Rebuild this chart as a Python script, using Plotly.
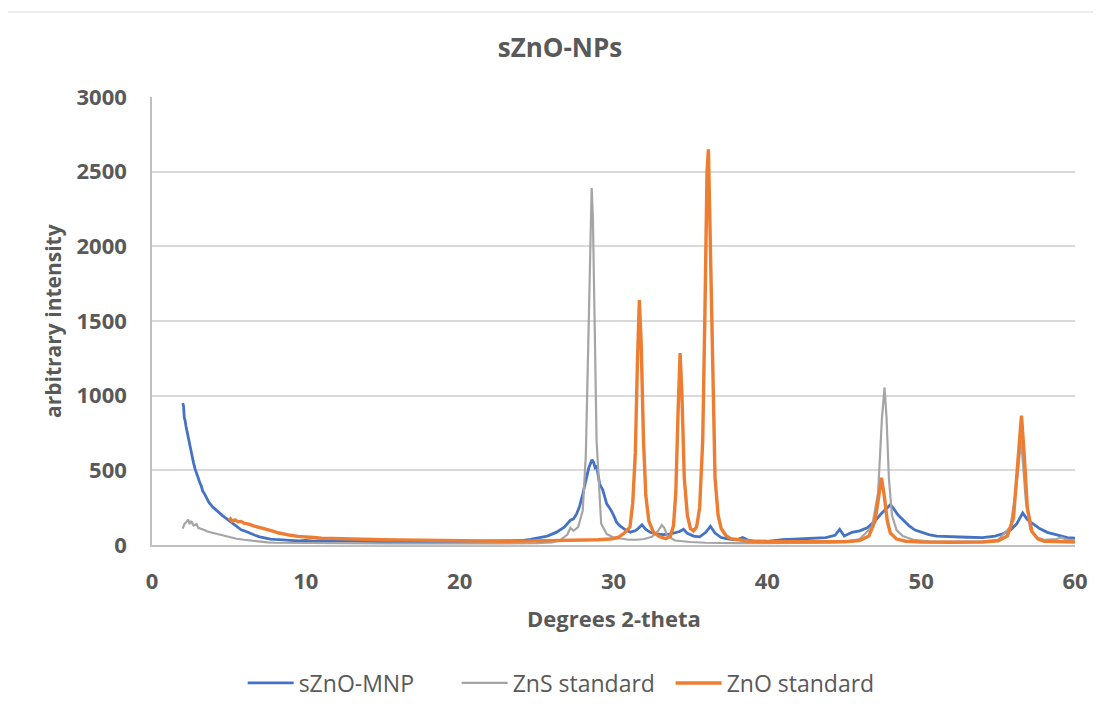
import plotly.graph_objects as go

# ---- data ----
mnp_x = [2.0, 2.05, 2.1, 2.15, 2.2, 2.3, 2.4, 2.5, 2.6, 2.7, 2.8, 2.9, 3.0, 3.1, 3.2, 3.3, 3.4, 3.5,
         3.6, 3.7, 3.8, 3.9, 4.0, 4.2, 4.4, 4.6, 4.8, 5.0, 5.2, 5.4, 5.6, 5.8, 6.0, 6.2, 6.4, 6.7,
         7.0, 7.3, 7.7, 8.0, 8.5, 9.0, 9.5, 10.0, 10.5, 11.0, 11.5, 12.0, 13.0, 14.0, 15.0, 16.0,
         17.0, 18.0, 19.0, 20.0, 21.0, 22.0, 23.0, 24.0, 24.6, 25.2, 25.7, 26.3, 26.8, 27.2, 27.4,
         27.6, 27.8, 28.0, 28.2, 28.4, 28.6, 28.7, 28.8, 28.9, 29.1, 29.3, 29.56, 29.8, 30.0, 30.2,
         30.4, 30.6, 30.8, 31.1, 31.4, 31.6, 31.85, 32.1, 32.4, 32.8, 33.2, 33.6, 34.0, 34.3, 34.55,
         34.8, 35.2, 35.6, 36.0, 36.3, 36.6, 37.0, 37.5, 38.0, 38.4, 38.7, 39.2, 40.0, 41.0, 42.0,
         43.0, 43.8, 44.4, 44.7, 45.0, 45.5, 46.0, 46.5, 47.0, 47.4, 47.8, 48.0, 48.2, 48.5, 48.8,
         49.2, 49.6, 50.0, 50.5, 51.0, 52.0, 53.0, 54.0, 54.8, 55.3, 55.8, 56.2, 56.6, 56.9, 57.3,
         57.7, 58.2, 58.6, 59.0, 59.5, 60.0]
mnp_y = [950, 930, 850, 835, 800, 760, 700, 650, 590, 550, 510, 475, 450, 420, 395, 360, 345, 320,
         305, 285, 270, 260, 250, 230, 210, 195, 180, 165, 150, 132, 115, 102, 95, 85, 75, 65,
         55, 48, 40, 37, 33, 30, 28, 30, 26, 29, 25, 27, 24, 26, 23, 25, 22, 24, 21, 22, 24, 22,
         26, 30, 38, 50, 60, 86, 120, 166, 175, 208, 260, 341, 440, 520, 570, 555, 520, 530, 408,
         370, 275, 240, 200, 153, 130, 115, 100, 86, 95, 110, 135, 105, 85, 75, 70, 72, 80, 90,
         105, 78, 60, 55, 85, 125, 80, 50, 40, 35, 50, 35, 25, 25, 35, 40, 45, 50, 65, 105, 60,
         85, 95, 115, 160, 210, 250, 270, 245, 200, 170, 130, 100, 85, 70, 60, 55, 52, 50, 60,
         75, 100, 140, 215, 170, 140, 110, 85, 75, 60, 50, 45]

zns_x = [2.0, 2.1, 2.2, 2.35, 2.45, 2.55, 2.7, 2.9, 3.0, 3.2, 3.4, 3.6, 3.8, 4.0, 4.3, 4.6, 5.0,
         5.5, 6.0, 6.5, 7.0, 7.5, 8.0, 9.0, 10.0, 12.0, 15.0, 20.0, 25.0, 26.0, 26.5, 27.0, 27.2,
         27.4, 27.7, 28.0, 28.2, 28.35, 28.5, 28.58, 28.66, 28.75, 28.9, 29.2, 29.56, 30.0, 30.5,
         31.0, 31.5, 32.0, 32.5, 32.9, 33.14, 33.3, 33.5, 34.0, 35.0, 36.0, 38.0, 40.0, 44.0, 45.0,
         46.0, 46.8, 47.2, 47.45, 47.62, 47.75, 47.9, 48.1, 48.4, 48.8, 49.5, 50.5, 52.0, 54.0,
         55.0, 55.8, 56.2, 56.5, 56.8, 57.1, 57.5, 58.0, 58.8, 59.1, 59.4, 60.0]
zns_y = [110, 140, 150, 170, 140, 160, 130, 140, 115, 110, 100, 90, 85, 78, 68, 60, 52,
         42, 35, 28, 22, 18, 15, 14, 12, 11, 10, 10, 12, 18, 30, 70, 115,
         95, 120, 230, 600, 1300, 2100, 2390, 2200, 1500, 700, 142, 73, 50, 40,
         35, 35, 40, 55, 95, 133, 115, 60, 30, 20, 15, 12, 12, 15, 20,
         40, 120, 350, 850, 1055, 850, 450, 200, 100, 60, 35, 25, 22, 25,
         35, 120, 400, 700, 300, 100, 50, 35, 40, 50, 38, 30]

zno_x = [5.0, 5.1, 5.2, 5.4, 5.6, 5.8, 6.0, 6.3, 6.6, 7.0, 7.4, 7.8, 8.2, 8.6, 9.0, 9.5, 10.0,
         10.5, 11.0, 11.5, 12.0, 13.0, 14.0, 15.0, 16.0, 17.0, 18.0, 19.0, 20.0, 21.0, 22.0, 23.0,
         24.0, 25.0, 26.0, 27.0, 28.0, 29.0, 29.8, 30.3, 30.7, 31.07, 31.25, 31.42, 31.55, 31.68,
         31.8, 31.95, 32.1, 32.3, 32.6, 33.0, 33.4, 33.7, 33.9, 34.05, 34.2, 34.33, 34.45, 34.6,
         34.8, 35.0, 35.2, 35.4, 35.6, 35.8, 35.95, 36.08, 36.17, 36.28, 36.45, 36.6, 36.8, 37.0,
         37.3, 37.6, 38.5, 39.0, 40.0, 42.0, 44.0, 45.0, 46.0, 46.6, 47.0, 47.25, 47.42, 47.6,
         47.8, 48.0, 48.4, 49.0, 50.0, 52.0, 54.0, 55.0, 55.6, 56.0, 56.3, 56.52, 56.7, 56.9,
         57.2, 57.6, 58.0, 59.0, 60.0]
zno_y = [165, 175, 160, 168, 155, 158, 145, 140, 128, 118, 105, 95, 82, 72, 65, 58, 52,
         50, 46, 44, 42, 38, 36, 35, 34, 32, 30, 28, 27, 26, 25, 25,
         26, 27, 28, 30, 32, 35, 40, 50, 80, 120, 280, 620, 1200, 1640,
         1350, 700, 330, 160, 85, 55, 42, 60, 130, 350, 900, 1285, 1000, 450,
         200, 110, 95, 120, 250, 700, 1600, 2500, 2650, 2100, 1000, 450, 200, 110,
         65, 42, 30, 25, 22, 20, 20, 22, 30, 60, 160, 350, 450, 330,
         160, 80, 40, 25, 20, 18, 20, 28, 60, 180, 550, 866, 600, 250,
         90, 40, 25, 20, 20]

series_names = ["sZnO-MNP", "ZnS standard", "ZnO standard"]
series_colors = ["#4472C4", "#A5A5A5", "#ED7D31"]
series_widths = [2.8, 2.2, 3.4]

x_ticks = [0, 10, 20, 30, 40, 50, 60]
y_ticks = [0, 500, 1000, 1500, 2000, 2500, 3000]

TXT = "#595959"
FONT = "Open Sans"

fig = go.Figure()
for name, xs, ys, col, w in zip(series_names, [mnp_x, zns_x, zno_x], [mnp_y, zns_y, zno_y],
                                series_colors, series_widths):
    fig.add_trace(go.Scatter(x=xs, y=ys, mode="lines", name=name,
                             line=dict(color=col, width=w)))

fig.update_layout(
    width=1093, height=709,
    margin=dict(l=144, r=26, t=89, b=169),
    paper_bgcolor="white", plot_bgcolor="white",
    title=dict(text="sZnO-NPs", x=0.505, xref="container", y=0.9436, yref="container",
               xanchor="center", yanchor="middle",
               font=dict(family=FONT, size=26, color=TXT, weight="bold")),
    legend=dict(orientation="h", x=0.446, xanchor="center", y=-0.308, yanchor="middle",
                font=dict(family=FONT, size=23, color=TXT), itemwidth=46,
                entrywidth=153, entrywidthmode="pixels",
                bgcolor="rgba(0,0,0,0)"),
    xaxis=dict(range=[0, 60], tickvals=x_ticks, showgrid=False, zeroline=False,
               showline=True, linecolor="#BFBFBF", linewidth=1.5,
               ticklabelstandoff=16,
               tickfont=dict(family=FONT, size=22, color=TXT, weight="bold")),
    yaxis=dict(range=[0, 3000], tickvals=y_ticks, showgrid=True, gridcolor="#D9D9D9",
               gridwidth=1.5, zeroline=False, showline=True, linecolor="#BFBFBF", linewidth=1.5,
               ticklabelstandoff=19,
               tickfont=dict(family=FONT, size=22, color=TXT, weight="bold")),
    annotations=[
        dict(text="Degrees 2-theta", xref="paper", yref="paper", x=0.5, y=-0.164,
             xanchor="center", yanchor="middle", showarrow=False,
             font=dict(family=FONT, size=22, color=TXT, weight="bold")),
        dict(text="arbitrary intensity", xref="paper", yref="paper", x=-0.1073, y=0.5,
             xanchor="center", yanchor="middle", showarrow=False, textangle=-90,
             font=dict(family=FONT, size=21, color=TXT, weight="bold")),
    ],
    shapes=[dict(type="rect", xref="paper", yref="paper",
                 x0=-0.157, x1=1.2, y0=-0.6, y1=1.19,
                 line=dict(color="#E6E6E6", width=1.5), layer="below")],
)

fig.write_html("out.html")
